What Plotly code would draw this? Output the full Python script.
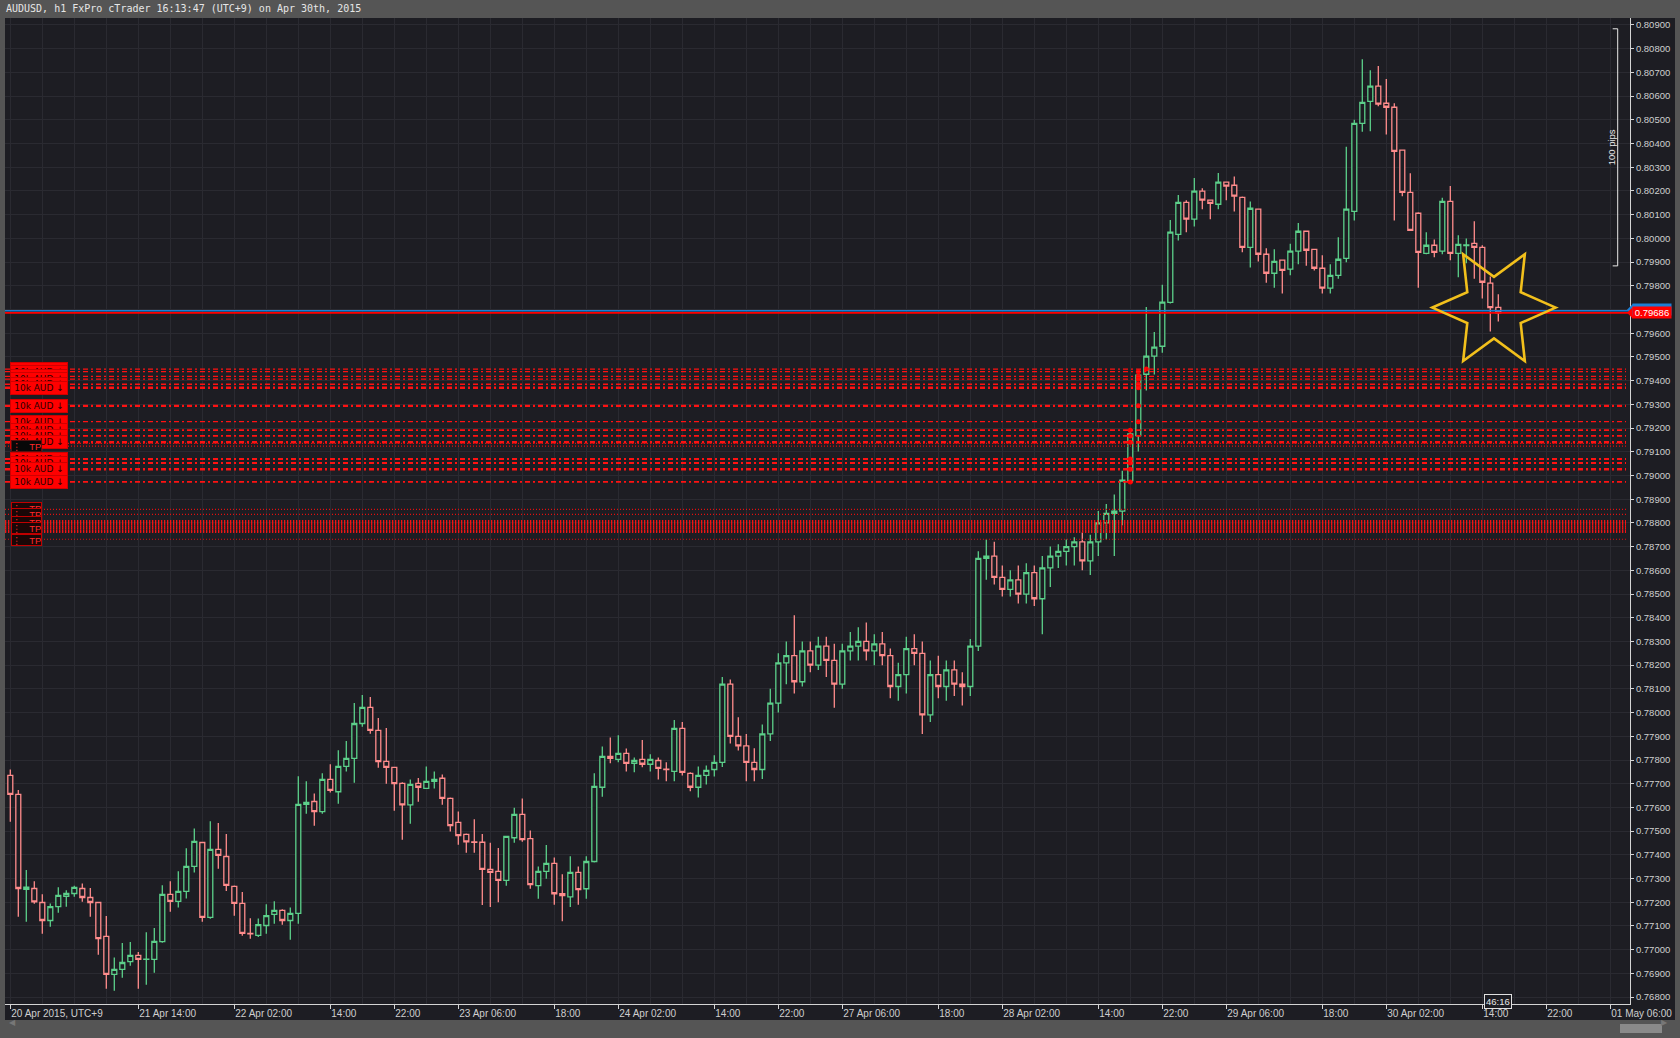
import math
import plotly.graph_objects as go

# ---------------- data (AUDUSD h1, 20 Apr 22:00 .. 30 Apr 16:00, UTC+9) ----------------
open_ = [
0.77735, 0.77655, 0.77254, 0.77258, 0.77199, 0.77123, 0.77182, 0.77225, 0.77237, 0.77258,
0.77220, 0.77199, 0.77056, 0.76896, 0.76917, 0.76950, 0.76976, 0.76959, 0.76959, 0.77034,
0.77233, 0.77204, 0.77246, 0.77351, 0.77452, 0.77136, 0.77423, 0.77393, 0.77267, 0.77195,
0.77069, 0.77060, 0.77102, 0.77149, 0.77166, 0.77123, 0.77153, 0.77613, 0.77625, 0.77582,
0.77718, 0.77666, 0.77773, 0.77807, 0.77954, 0.78022, 0.77925, 0.77794, 0.77769, 0.77701,
0.77611, 0.77701, 0.77680, 0.77710, 0.77723, 0.77638, 0.77537, 0.77486, 0.77455, 0.77453,
0.77339, 0.77330, 0.77292, 0.77472, 0.77571, 0.77468, 0.77270, 0.77330, 0.77364, 0.77236,
0.77223, 0.77326, 0.77257, 0.77372, 0.77685, 0.77815, 0.77803, 0.77828, 0.77786, 0.77803,
0.77782, 0.77798, 0.77761, 0.77752, 0.77933, 0.77744, 0.77685, 0.77735, 0.77760, 0.77790,
0.78120, 0.77900, 0.77860, 0.77790, 0.77760, 0.77910, 0.78040, 0.78210, 0.78240, 0.78130,
0.78260, 0.78200, 0.78280, 0.78220, 0.78120, 0.78260, 0.78280, 0.78300, 0.78260, 0.78290,
0.78240, 0.78110, 0.78160, 0.78270, 0.78250, 0.77990, 0.78160, 0.78110, 0.78180, 0.78120,
0.78110, 0.78280, 0.78650, 0.78660, 0.78570, 0.78520, 0.78560, 0.78500, 0.78590, 0.78480,
0.78610, 0.78660, 0.78680, 0.78700, 0.78720, 0.78640, 0.78720, 0.78800, 0.78840, 0.78850,
0.78978, 0.79168, 0.79427, 0.79503, 0.79545, 0.79730, 0.80017, 0.80152, 0.80081, 0.80199,
0.80161, 0.80144, 0.80237, 0.80224, 0.80173, 0.79962, 0.80123, 0.79933, 0.79853, 0.79908,
0.79870, 0.79946, 0.80030, 0.79954, 0.79874, 0.79790, 0.79844, 0.79916, 0.80114, 0.80485,
0.80578, 0.80642, 0.80570, 0.80553, 0.80372, 0.80194, 0.80106, 0.79937, 0.79971, 0.79946,
0.80156, 0.79937, 0.79970, 0.79979, 0.79962, 0.79811, 0.79709]

high = [
0.77760, 0.77673, 0.77336, 0.77289, 0.77234, 0.77195, 0.77263, 0.77251, 0.77270, 0.77279,
0.77260, 0.77200, 0.77142, 0.76967, 0.77028, 0.77032, 0.76990, 0.77074, 0.77091, 0.77272,
0.77289, 0.77331, 0.77428, 0.77511, 0.77454, 0.77542, 0.77534, 0.77488, 0.77271, 0.77243,
0.77133, 0.77132, 0.77192, 0.77204, 0.77170, 0.77178, 0.77731, 0.77710, 0.77659, 0.77744,
0.77782, 0.77841, 0.77880, 0.78040, 0.78074, 0.78066, 0.77977, 0.77935, 0.77770, 0.77706,
0.77718, 0.77724, 0.77773, 0.77752, 0.77739, 0.77642, 0.77583, 0.77490, 0.77550, 0.77488,
0.77451, 0.77429, 0.77481, 0.77599, 0.77638, 0.77503, 0.77351, 0.77441, 0.77389, 0.77318,
0.77394, 0.77351, 0.77394, 0.77744, 0.77857, 0.77895, 0.77904, 0.77849, 0.77811, 0.77884,
0.77824, 0.77811, 0.77790, 0.77969, 0.77960, 0.77748, 0.77773, 0.77777, 0.77820, 0.78150,
0.78140, 0.77980, 0.77910, 0.77850, 0.77950, 0.78100, 0.78250, 0.78300, 0.78410, 0.78300,
0.78300, 0.78320, 0.78320, 0.78290, 0.78290, 0.78340, 0.78360, 0.78380, 0.78330, 0.78340,
0.78270, 0.78210, 0.78320, 0.78330, 0.78300, 0.78220, 0.78240, 0.78220, 0.78220, 0.78170,
0.78310, 0.78680, 0.78730, 0.78720, 0.78620, 0.78600, 0.78620, 0.78630, 0.78620, 0.78660,
0.78700, 0.78710, 0.78730, 0.78740, 0.78760, 0.78750, 0.78850, 0.78880, 0.78920, 0.79020,
0.79195, 0.79431, 0.79711, 0.79605, 0.79804, 0.80078, 0.80183, 0.80161, 0.80255, 0.80211,
0.80162, 0.80276, 0.80238, 0.80261, 0.80177, 0.80156, 0.80124, 0.79958, 0.79954, 0.79909,
0.79977, 0.80065, 0.80031, 0.79955, 0.79929, 0.79891, 0.80005, 0.80386, 0.80500, 0.80755,
0.80709, 0.80727, 0.80672, 0.80570, 0.80373, 0.80275, 0.80110, 0.80026, 0.79995, 0.80171,
0.80221, 0.80013, 0.80000, 0.80072, 0.79971, 0.79839, 0.79764]

low = [
0.77540, 0.77139, 0.77118, 0.77194, 0.77067, 0.77097, 0.77156, 0.77181, 0.77223, 0.77202,
0.77139, 0.76979, 0.76835, 0.76827, 0.76882, 0.76932, 0.76835, 0.76852, 0.76903, 0.77029,
0.77160, 0.77178, 0.77216, 0.77326, 0.77118, 0.77130, 0.77341, 0.77248, 0.77143, 0.77059,
0.77046, 0.77054, 0.77067, 0.77109, 0.77105, 0.77042, 0.77109, 0.77573, 0.77523, 0.77573,
0.77663, 0.77616, 0.77751, 0.77704, 0.77940, 0.77911, 0.77767, 0.77700, 0.77586, 0.77464,
0.77531, 0.77624, 0.77680, 0.77680, 0.77611, 0.77498, 0.77443, 0.77409, 0.77409, 0.77188,
0.77180, 0.77200, 0.77270, 0.77451, 0.77455, 0.77257, 0.77215, 0.77299, 0.77190, 0.77120,
0.77180, 0.77190, 0.77215, 0.77368, 0.77645, 0.77786, 0.77790, 0.77752, 0.77748, 0.77769,
0.77752, 0.77718, 0.77710, 0.77710, 0.77735, 0.77668, 0.77642, 0.77697, 0.77730, 0.77770,
0.77870, 0.77840, 0.77710, 0.77710, 0.77720, 0.77880, 0.78000, 0.78120, 0.78080, 0.78110,
0.78170, 0.78180, 0.78150, 0.78020, 0.78100, 0.78220, 0.78220, 0.78220, 0.78200, 0.78200,
0.78060, 0.78050, 0.78080, 0.78200, 0.77910, 0.77960, 0.78060, 0.78050, 0.78070, 0.78030,
0.78070, 0.78260, 0.78560, 0.78540, 0.78490, 0.78490, 0.78460, 0.78460, 0.78450, 0.78330,
0.78530, 0.78610, 0.78620, 0.78620, 0.78600, 0.78580, 0.78660, 0.78730, 0.78660, 0.78790,
0.78967, 0.79101, 0.79358, 0.79426, 0.79518, 0.79725, 0.79991, 0.80026, 0.80050, 0.80123,
0.80081, 0.80123, 0.80161, 0.80113, 0.79941, 0.79877, 0.79903, 0.79813, 0.79792, 0.79768,
0.79844, 0.79891, 0.79885, 0.79865, 0.79768, 0.79768, 0.79830, 0.79899, 0.80075, 0.80450,
0.80452, 0.80557, 0.80438, 0.80075, 0.80178, 0.80033, 0.79792, 0.79933, 0.79920, 0.79933,
0.79908, 0.79836, 0.79895, 0.79830, 0.79746, 0.79607, 0.79649]

close = [
0.77655, 0.77258, 0.77264, 0.77202, 0.77123, 0.77182, 0.77229, 0.77237, 0.77263, 0.77220,
0.77199, 0.77047, 0.76896, 0.76917, 0.76946, 0.76976, 0.76959, 0.76960, 0.77035, 0.77233,
0.77204, 0.77246, 0.77351, 0.77457, 0.77136, 0.77423, 0.77398, 0.77271, 0.77195, 0.77069,
0.77067, 0.77106, 0.77144, 0.77166, 0.77123, 0.77153, 0.77613, 0.77621, 0.77582, 0.77718,
0.77672, 0.77773, 0.77807, 0.77954, 0.78022, 0.77925, 0.77793, 0.77769, 0.77700, 0.77611,
0.77697, 0.77685, 0.77710, 0.77718, 0.77638, 0.77523, 0.77481, 0.77455, 0.77453, 0.77339,
0.77326, 0.77292, 0.77478, 0.77571, 0.77464, 0.77274, 0.77330, 0.77364, 0.77236, 0.77228,
0.77326, 0.77253, 0.77372, 0.77689, 0.77815, 0.77807, 0.77828, 0.77786, 0.77798, 0.77782,
0.77803, 0.77765, 0.77760, 0.77933, 0.77748, 0.77685, 0.77735, 0.77756, 0.77790, 0.78120,
0.77900, 0.77860, 0.77790, 0.77760, 0.77910, 0.78040, 0.78210, 0.78240, 0.78130, 0.78260,
0.78200, 0.78280, 0.78220, 0.78120, 0.78260, 0.78280, 0.78300, 0.78260, 0.78290, 0.78240,
0.78110, 0.78160, 0.78270, 0.78250, 0.77990, 0.78160, 0.78110, 0.78180, 0.78120, 0.78110,
0.78280, 0.78650, 0.78660, 0.78570, 0.78520, 0.78560, 0.78500, 0.78590, 0.78480, 0.78610,
0.78660, 0.78680, 0.78700, 0.78720, 0.78640, 0.78720, 0.78800, 0.78840, 0.78850, 0.78980,
0.79175, 0.79423, 0.79503, 0.79541, 0.79731, 0.80026, 0.80152, 0.80081, 0.80199, 0.80161,
0.80148, 0.80237, 0.80220, 0.80178, 0.79962, 0.80127, 0.79933, 0.79853, 0.79903, 0.79865,
0.79946, 0.80030, 0.79950, 0.79874, 0.79790, 0.79844, 0.79912, 0.80123, 0.80485, 0.80574,
0.80642, 0.80566, 0.80553, 0.80367, 0.80194, 0.80034, 0.79941, 0.79971, 0.79941, 0.80156,
0.79937, 0.79975, 0.79973, 0.79962, 0.79815, 0.79708, 0.79686]

bars = list(range(len(close)))

tick_bars = [0, 16, 28, 40, 48, 56, 68, 76, 88, 96, 104, 116, 124, 136, 144, 152, 164, 172, 184, 192, 200]
tick_text = ["20 Apr 2015, UTC+9", "21 Apr 14:00", "22 Apr 02:00", "14:00", "22:00", "23 Apr 06:00",
             "18:00", "24 Apr 02:00", "14:00", "22:00", "27 Apr 06:00", "18:00", "28 Apr 02:00",
             "14:00", "22:00", "29 Apr 06:00", "18:00", "30 Apr 02:00", "14:00", "22:00", "01 May 06:00"]

# pending sell orders (10k AUD) and their execution markers
order_prices = [0.79449, 0.79438, 0.79418, 0.79406, 0.79385, 0.79370, 0.79294,
                0.79227, 0.79191, 0.79167, 0.79140, 0.79070, 0.79053, 0.79026, 0.78973]
order_widths = [1.3, 1.3, 1.3, 1.3, 1.5, 2.5, 2.2, 1.3, 1.8, 1.8, 2.5, 2.0, 2.0, 2.5, 1.8]
order_label = "10k AUD \u2193"
marker_bars = [142, 141, 141, 141, 141, 141, 141, 141, 140, 140, 140, 140, 140, 140, 140]

# take-profit levels: thin dotted lines and a dense dotted band
tp_thin_prices = [0.79135, 0.79124, 0.78857, 0.78836, 0.78731]
tp_band_prices = [0.78808, 0.78800, 0.78792, 0.78784, 0.78776, 0.78768, 0.78762]
tp_label_prices = [0.79126, 0.78862, 0.78839, 0.78805, 0.78778, 0.78728]

bid_price = 0.79686
ask_price = 0.79695
ruler_low, ruler_high = 0.79884, 0.80884
star_center = (185.46, 0.79708)
countdown = "46:16"
title_text = "AUDUSD, h1 FxPro cTrader 16:13:47 (UTC+9) on Apr 30th, 2015"

# ---------------- styling ----------------
W, H = 1680, 1038
ML, MR, MT, MB = 5, 50, 18, 34
PW, PH = W - ML - MR, H - MT - MB
BG = "#1d1d23"
GRID = "#2a2a31"
FRAME = "#555555"
GREEN = "#5cd08a"
PINK = "#ff8c8c"
ORDER_RED = "#ff1212"
AXIS = "#d4d4d4"
TXT = "#cfcfcf"


def px_x(p):
    return (p - ML) / PW


def px_y(p):
    return (H - MB - p) / PH


fig = go.Figure()
fig.add_trace(go.Candlestick(
    x=bars, open=open_, high=high, low=low, close=close,
    increasing=dict(line=dict(color=GREEN, width=1.3), fillcolor=BG),
    decreasing=dict(line=dict(color=PINK, width=1.3), fillcolor=BG),
    whiskerwidth=0, hoverinfo="skip", showlegend=False))

fig.add_trace(go.Scatter(
    x=marker_bars, y=order_prices, mode="markers",
    marker=dict(color="#ff0000", size=5, line=dict(width=0)),
    hoverinfo="skip", showlegend=False))

shapes = []
for p, w in zip(order_prices, order_widths):
    shapes.append(dict(type="line", xref="paper", yref="y", x0=0, x1=px_x(1626), y0=p, y1=p,
                       line=dict(color=ORDER_RED, width=w, dash="5px,3px,2px,3px"), layer="above"))
for p in tp_thin_prices:
    shapes.append(dict(type="line", xref="paper", yref="y", x0=0, x1=px_x(1626), y0=p, y1=p,
                       line=dict(color="#e01010", width=1.2, dash="1px,2px"), layer="above"))
for p in tp_band_prices:
    shapes.append(dict(type="line", xref="paper", yref="y", x0=0, x1=px_x(1626), y0=p, y1=p,
                       line=dict(color="#f01515", width=2, dash="1.3px,1.7px"), layer="above"))
shapes.append(dict(type="line", xref="paper", yref="y", x0=0, x1=1, y0=ask_price, y1=ask_price,
                   line=dict(color="#1c7fd6", width=1.6), layer="above"))
shapes.append(dict(type="line", xref="paper", yref="y", x0=0, x1=1, y0=bid_price, y1=bid_price,
                   line=dict(color="#ff0000", width=1.6), layer="above"))
tip = 0.00025
for pr, col in ((ask_price + 0.00004, "#1c7fd6"), (bid_price, "#ff0000")):
    shapes.append(dict(type="path", xref="paper", yref="y",
                       path=f"M {px_x(1633)},{pr + tip} L {px_x(1627)},{pr} L {px_x(1633)},{pr - tip} Z",
                       fillcolor=col, line=dict(width=0), layer="above"))
rx, rt = px_x(1617.7), px_x(1612.7)
shapes.append(dict(type="line", xref="paper", yref="y", x0=rx, x1=rx, y0=ruler_low, y1=ruler_high,
                   line=dict(color="#e8e8e8", width=1), layer="above"))
for yy in (ruler_low, ruler_high):
    shapes.append(dict(type="line", xref="paper", yref="y", x0=rt, x1=rx, y0=yy, y1=yy,
                       line=dict(color="#e8e8e8", width=1), layer="above"))
cx, cy = star_center
R_bar, R_pr, inner = 7.71, 0.002602, 0.5
pts = []
for k in range(12):
    a = math.radians(30 * k)
    r = 1.0 if k % 2 == 0 else inner
    pts.append((cx + r * R_bar * math.cos(a), cy + r * R_pr * math.sin(a)))
star_path = "M " + " L ".join(f"{x:.4f},{y:.6f}" for x, y in pts) + " Z"
shapes.append(dict(type="path", xref="x", yref="y", path=star_path,
                   line=dict(color="#f2c01c", width=2.6), layer="above"))
shapes += [
    dict(type="rect", xref="paper", yref="paper", x0=px_x(0), x1=px_x(W), y0=px_y(18), y1=px_y(0),
         fillcolor=FRAME, line=dict(width=0), layer="above"),
    dict(type="rect", xref="paper", yref="paper", x0=px_x(0), x1=px_x(5), y0=px_y(H), y1=px_y(0),
         fillcolor=FRAME, line=dict(width=0), layer="above"),
    dict(type="rect", xref="paper", yref="paper", x0=px_x(0), x1=px_x(W), y0=px_y(H), y1=px_y(1020),
         fillcolor=FRAME, line=dict(width=0), layer="above"),
    dict(type="rect", xref="paper", yref="paper", x0=px_x(1675), x1=px_x(W), y0=px_y(H), y1=px_y(0),
         fillcolor=FRAME, line=dict(width=0), layer="above"),
    dict(type="rect", xref="paper", yref="paper", x0=px_x(1620), x1=px_x(1662), y0=px_y(1033), y1=px_y(1024),
         fillcolor="#8a8a8a", line=dict(width=0), layer="above"),
]

ann = []
ann.append(dict(text=title_text, xref="paper", yref="paper", x=px_x(4), y=px_y(9), xanchor="left",
                yanchor="middle", showarrow=False,
                font=dict(family="DejaVu Sans Mono", size=10, color="#e6e6e6")))
for p in order_prices:
    ann.append(dict(text=order_label, xref="paper", yref="y", x=px_x(10), y=p, xanchor="left",
                    yanchor="middle", showarrow=False, width=56, height=12, borderpad=0, borderwidth=1,
                    bordercolor="#d00000", bgcolor="#ff0000", align="center",
                    font=dict(family="DejaVu Sans, Liberation Sans", size=9, color="#2a0000")))
for j, p in enumerate(tp_label_prices):
    ann.append(dict(text="\u22ee   TP", xref="paper", yref="y", x=px_x(11), y=p, xanchor="left",
                    yanchor="middle", showarrow=False, width=29, height=10, borderpad=0, borderwidth=1,
                    bordercolor="#c00000" if j else "#5a1010", bgcolor="#1a0707" if j else "#080808",
                    align="left",
                    font=dict(family="Liberation Sans, DejaVu Sans", size=9.5, color="#ff2a2a")))
ann.append(dict(text="0.79686", xref="paper", yref="y", x=px_x(1632), y=ask_price + 0.00004, xanchor="left",
                yanchor="middle", showarrow=False, width=38, height=11, borderpad=0, bgcolor="#1c7fd6",
                font=dict(family="Liberation Sans", size=9.5, color="#1c7fd6")))
ann.append(dict(text="0.79686", xref="paper", yref="y", x=px_x(1632), y=bid_price, xanchor="left",
                yanchor="middle", showarrow=False, width=38, height=11, borderpad=0, bgcolor="#ff0000",
                font=dict(family="Liberation Sans", size=9.5, color="#ffffff")))
ann.append(dict(text="100 pips", xref="paper", yref="y", x=px_x(1611), y=(ruler_low + ruler_high) / 2,
                xanchor="center", yanchor="middle", showarrow=False, textangle=-90,
                font=dict(family="Liberation Sans", size=9.5, color="#e8e8e8")))
ann.append(dict(text=countdown, xref="x", yref="paper", x=bars[-1], y=px_y(1001.5), xanchor="center",
                yanchor="middle", showarrow=False, borderwidth=1, bordercolor="#e0e0e0", borderpad=1,
                bgcolor=BG, font=dict(family="Liberation Sans", size=9.5, color="#e8e8e8")))
ann.append(dict(text="\u25c0", xref="paper", yref="paper", x=px_x(7), y=px_y(1029), showarrow=False,
                font=dict(size=8, color="#777777")))
ann.append(dict(text="\u25b6", xref="paper", yref="paper", x=px_x(1670), y=px_y(1029), showarrow=False,
                font=dict(size=8, color="#777777")))

x_lo = (ML - 10.3) / 8.0
x_hi = x_lo + PW / 8.0

fig.update_layout(
    width=W, height=H, autosize=False,
    margin=dict(l=ML, r=MR, t=MT, b=MB, pad=0),
    paper_bgcolor=BG, plot_bgcolor=BG,
    showlegend=False, boxgap=0.38, boxgroupgap=0,
    shapes=shapes, annotations=ann,
    xaxis=dict(range=[x_lo, x_hi], tickmode="array", tickvals=tick_bars, ticktext=tick_text,
               ticks="outside", ticklen=4, tickcolor=AXIS, ticklabelposition="outside right",
               tickfont=dict(family="Liberation Sans", size=10, color=TXT),
               showline=True, linecolor=AXIS, linewidth=1, showgrid=True, gridcolor=GRID, gridwidth=1,
               zeroline=False, rangeslider=dict(visible=False), fixedrange=True,
               minor=dict(tickmode="linear", tick0=0, dtick=4, showgrid=True, gridcolor=GRID, ticks="")),
    yaxis=dict(range=[0.767709, 0.809295], side="right", tick0=0.768, dtick=0.001, tickformat=".5f",
               ticks="outside", ticklen=3, tickcolor=AXIS,
               tickfont=dict(family="Liberation Sans", size=9.5, color=TXT),
               showline=True, linecolor=AXIS, linewidth=1, showgrid=True, gridcolor=GRID, gridwidth=1,
               zeroline=False, fixedrange=True),
)

fig.write_html("out.html", config={"displayModeBar": False},
               post_script="document.body.style.margin='0';document.body.style.overflow='hidden';")
